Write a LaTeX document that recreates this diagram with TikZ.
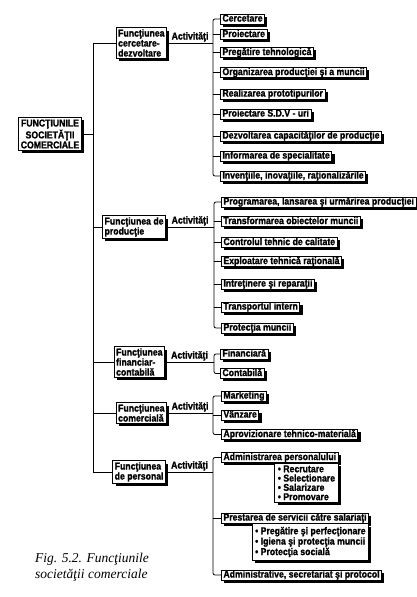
\documentclass[tikz,border=0pt]{standalone}
\usepackage{fontspec}
\setmainfont{Liberation Serif}
\newfontfamily\boxfont[FakeStretch=0.87, BoldFeatures={FakeBold=1.2}]{Liberation Sans}
\usetikzlibrary{shadows}

\tikzset{
    box/.style={draw, line width=0.9pt, fill=white, inner xsep=2pt, inner ysep=0.6pt,
        font=\boxfont\bfseries\fontsize{10}{10}\selectfont,
        drop shadow={shadow xshift=2.8pt, shadow yshift=-2.8pt, fill=black, opacity=1}},
    item/.style={box, anchor=west, text height=7pt, text depth=1.8pt},
    func/.style={box, anchor=east, align=left, inner ysep=1.5pt},
    sub/.style={box, anchor=north east, align=left, inner xsep=3pt, inner ysep=2pt},
    act/.style={font=\boxfont\bfseries\fontsize{10}{10}\selectfont, above, inner sep=1pt},
    link/.style={line width=0.8pt}
}

\begin{document}
\begin{tikzpicture}[x=1pt, y=-1pt]
    \useasboundingbox (0,0) rectangle (416,597);

    \node[box, align=center, inner ysep=2pt] (main) at (50,134) {FUNCŢIUNILE\\SOCIETĂŢII\\COMERCIALE};

    \node[func] (f1) at (167,43) {Funcţiunea\\cercetare-\\dezvoltare};
    \node[func] (f2) at (166,227) {Funcţiunea de\\producţie};
    \node[func] (f3) at (165,362) {Funcţiunea\\financiar-\\contabilă};
    \node[func] (f4) at (167,413) {Funcţiunea\\comercială};
    \node[func] (f5) at (166,472) {Funcţiunea\\de personal};

    \coordinate (t) at (93,0);
    \draw[link] (f1.west) -- (f1.west -| t) -- (f5.west -| t) -- (f5.west);
    \foreach \f in {f2,f3,f4}
    {
        \draw[link] (\f.west) -- (\f.west -| t);
    }
    \draw[link] (main.east) -- (main.east -| t);

    % cercetare-dezvoltare
    \foreach \i/\y/\txt in {1/19/Cercetare, 2/34.5/Proiectare, 3/52.5/Pregătire tehnologică,
        4/72.5/Organizarea producţiei şi a muncii, 5/94/Realizarea prototipurilor,
        6/114/Proiectare S.D.V - uri, 7/136/Dezvoltarea capacităţilor de producţie,
        8/156/Informarea de specialitate, 9/176/{Invenţiile, inovaţiile, raţionalizările}}
    {
        \node[item] (c\i) at (220,\y) {\txt};
    }
    \coordinate (k1) at (213,0);
    \draw[link, rounded corners=2pt] (c1.west) -- (c1.west -| k1) -- (c9.west -| k1) -- (c9.west);
    \foreach \i in {2,...,8}
    {
        \draw[link] (c\i.west) -- (c\i.west -| k1);
    }
    \draw[link] (f1.east) -- node[act] {Activităţi} (f1.east -| k1);

    % productie
    \foreach \i/\y/\txt in {1/202/{Programarea, lansarea şi urmărirea producţiei},
        2/221.5/Transformarea obiectelor muncii, 3/242.5/Controlul tehnic de calitate,
        4/261.5/Exploatare tehnică raţională, 5/284/Intreţinere şi reparaţii,
        6/307/Transportul intern, 7/328/Protecţia muncii}
    {
        \node[item] (p\i) at (221,\y) {\txt};
    }
    \coordinate (k2) at (214,0);
    \draw[link, rounded corners=2pt] (p1.west) -- (p1.west -| k2) -- (p7.west -| k2) -- (p7.west);
    \foreach \i in {2,...,6}
    {
        \draw[link] (p\i.west) -- (p\i.west -| k2);
    }
    \draw[link] (f2.east) -- node[act] {Activităţi} (f2.east -| k2);

    % financiar-contabila
    \node[item] (n1) at (220,354) {Financiară};
    \node[item] (n2) at (220,373.5) {Contabilă};
    \coordinate (k3) at (214,0);
    \draw[link, rounded corners=2pt] (n1.west) -- (n1.west -| k3) -- (n2.west -| k3) -- (n2.west);
    \draw[link] (f3.east) -- node[act] {Activităţi} (f3.east -| k3);

    % comerciala
    \node[item] (m1) at (221,396) {Marketing};
    \node[item] (m2) at (221,415) {Vânzare};
    \node[item] (m3) at (221,434.5) {Aprovizionare tehnico-materială};
    \coordinate (k4) at (213,0);
    \draw[link, rounded corners=2pt] (m1.west) -- (m1.west -| k4) -- (m3.west -| k4) -- (m3.west);
    \draw[link] (m2.west) -- (m2.west -| k4);
    \draw[link] (f4.east) -- node[act] {Activităţi} (f4.east -| k4);

    % personal
    \node[item] (h1) at (221,457.5) {Administrarea personalului};
    \node[sub, font=\boxfont\bfseries\fontsize{10}{9.3}\selectfont] (s1) at (h1.south east)
        {• Recrutare\\• Selectionare\\• Salarizare\\• Promovare};
    \node[item] (h2) at (221,518) {Prestarea de servicii către salariaţi};
    \node[sub, inner ysep=3pt, font=\boxfont\bfseries\fontsize{10}{8.8}\selectfont] (s2) at (h2.south east)
        {• Pregătire şi perfecţionare\\• Igiena şi protecţia muncii\\• Protecţia socială};
    \node[item] (h3) at (221,575) {Administrative, secretariat şi protocol};
    \coordinate (k5) at (213,0);
    \draw[link, rounded corners=2pt] (h1.west) -- (h1.west -| k5) -- (h3.west -| k5) -- (h3.west);
    \draw[link] (h2.west) -- (h2.west -| k5);
    \draw[link] (f5.east) -- node[act] {Activităţi} (f5.east -| k5);

    \node[anchor=north west, align=left, inner sep=0, font=\itshape\fontsize{13.5}{16}\selectfont] (cap)
        at (35,553) {Fig. 5.2. Funcţiunile\\societăţii comerciale};
\end{tikzpicture}
\end{document}
